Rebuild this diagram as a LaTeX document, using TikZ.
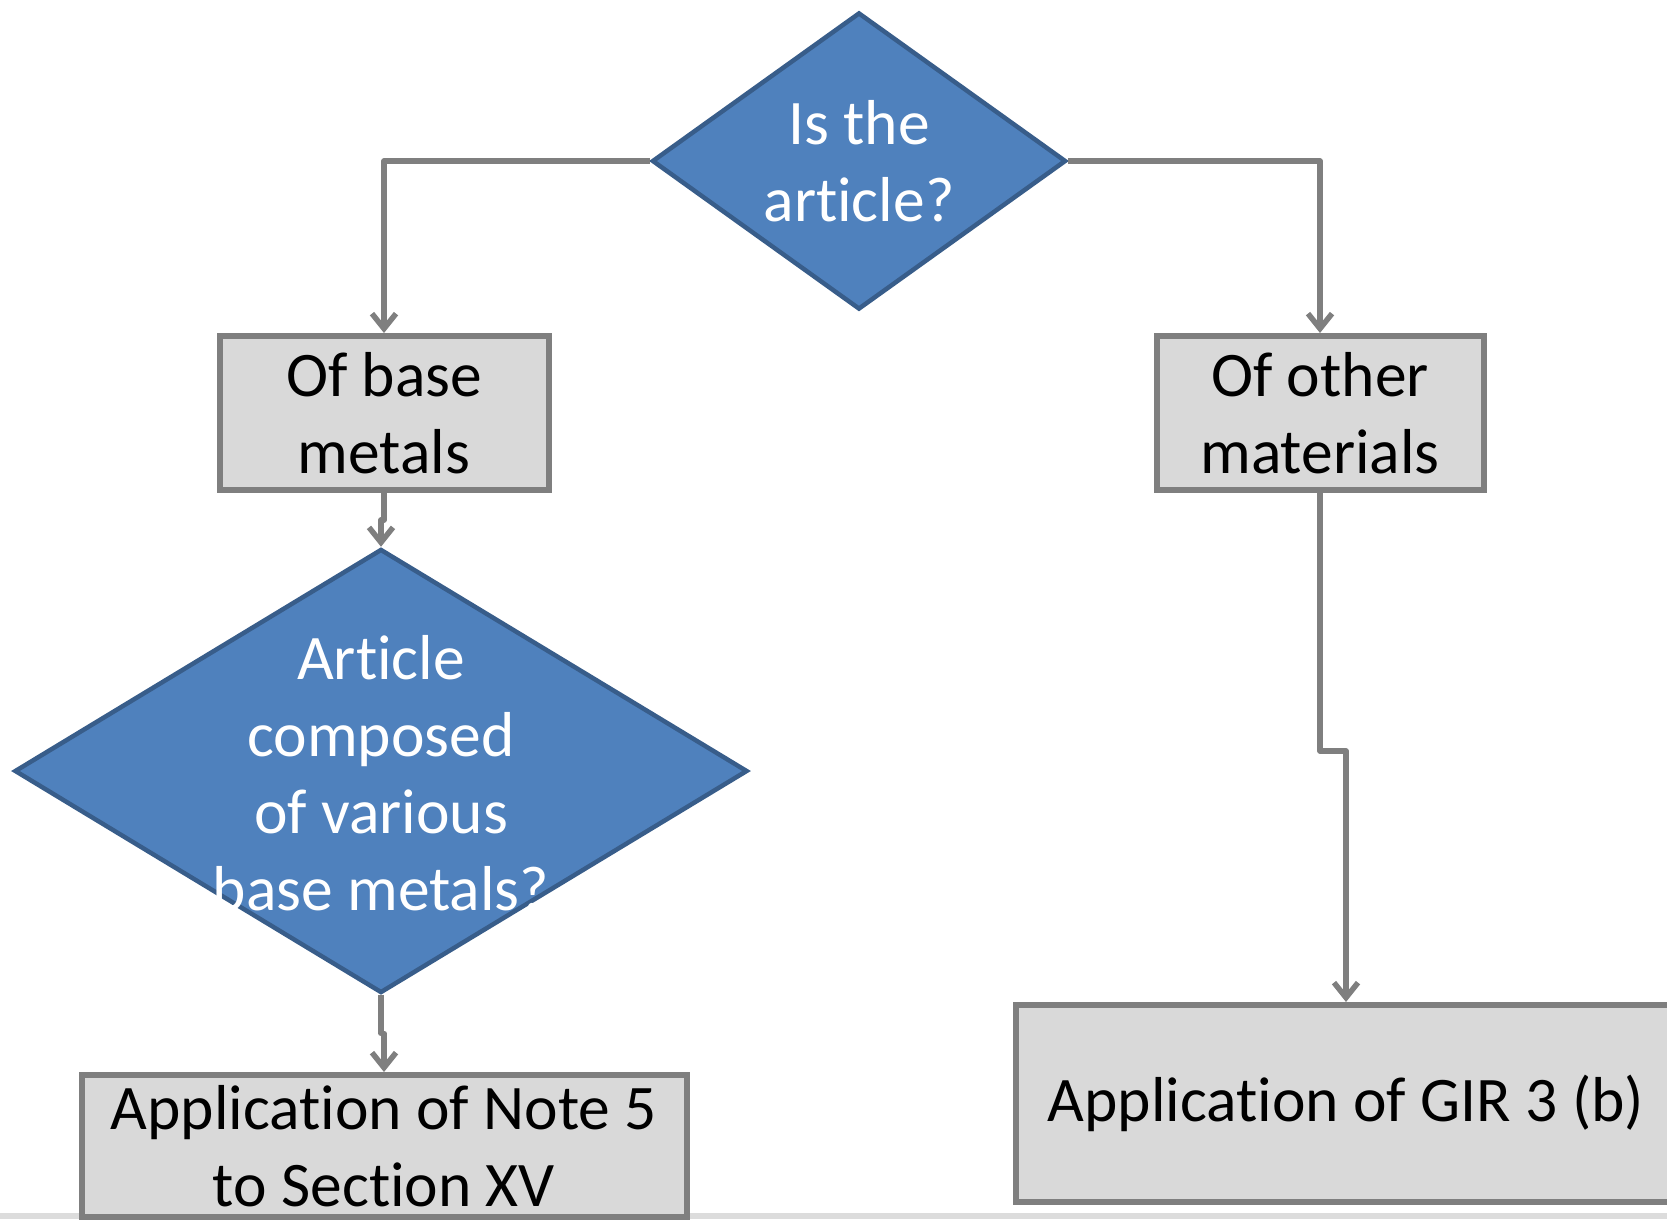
\documentclass[tikz,border=0pt]{standalone}
\usepackage{fontspec}
\setmainfont[Ligatures={NoCommon,NoContextual},RawFeature={-liga;-clig;-calt;-dlig}]{Carlito}
\usetikzlibrary{arrows.meta,positioning,shapes.geometric}
\definecolor{girBlue}{HTML}{4F81BD}
\definecolor{girBlueEdge}{HTML}{385D8A}
\definecolor{girGrey}{HTML}{D9D9D9}
\definecolor{girLine}{HTML}{7F7F7F}
\definecolor{girBar}{HTML}{DCDCDC}

\begin{document}
\begin{tikzpicture}[x=1pt,y=-1pt,
    font=\fontsize{63.5}{77}\selectfont,
    dec/.style={diamond,draw=girBlueEdge,fill=girBlue,line width=4.5pt,
                inner sep=0pt,aspect=1},
    dtext/.style={align=center,text=white,inner sep=0pt},
    proc/.style={draw=girLine,fill=girGrey,line width=6pt,align=center,
                 inner sep=0pt},
    arr/.style={-{Straight Barb[length=15pt,width=24pt]},girLine,line width=5.5pt,
                line join=round}]

  \useasboundingbox (0,0) rectangle (1667,1219);
  \fill[girBar] (0,1213) rectangle (1667,1219);

  \node[dec,minimum width=414pt,minimum height=297pt] (q1) at (859,161) {};
  \node[dtext] (q1txt) at (q1) {Is the\\article?};
  \node[proc,minimum width=329pt,minimum height=154pt] (base) at (384,413) {Of base\\metals};
  \node[proc,minimum width=327pt,minimum height=154pt] (other) at (1320,413) {Of other\\materials};
  \node[dec,minimum width=733pt,minimum height=444pt] (q2) at (381,771) {};
  \node[dtext] (q2txt) at (381,773) {Article\\composed\\of various\\base metals?};
  \node[proc,minimum width=605pt,minimum height=142pt] (note) at (384,1146) {Application of Note 5\\to Section XV};
  \node[proc,minimum width=660pt,minimum height=197pt] (gir) at (1346,1103.5) {Application of GIR 3 (b)};

  \draw[arr] (q1.west) -| (base.north);
  \draw[arr] (q1.east) -| (other.north);
  \draw[arr] (base.south) -- ++(0,27) -| (q2.north);
  \draw[arr] (q2.south) -- ++(0,38) -| (note.north);
  \draw[arr] (other.south) -- ++(0,258) -| (gir.north);
\end{tikzpicture}
\end{document}
